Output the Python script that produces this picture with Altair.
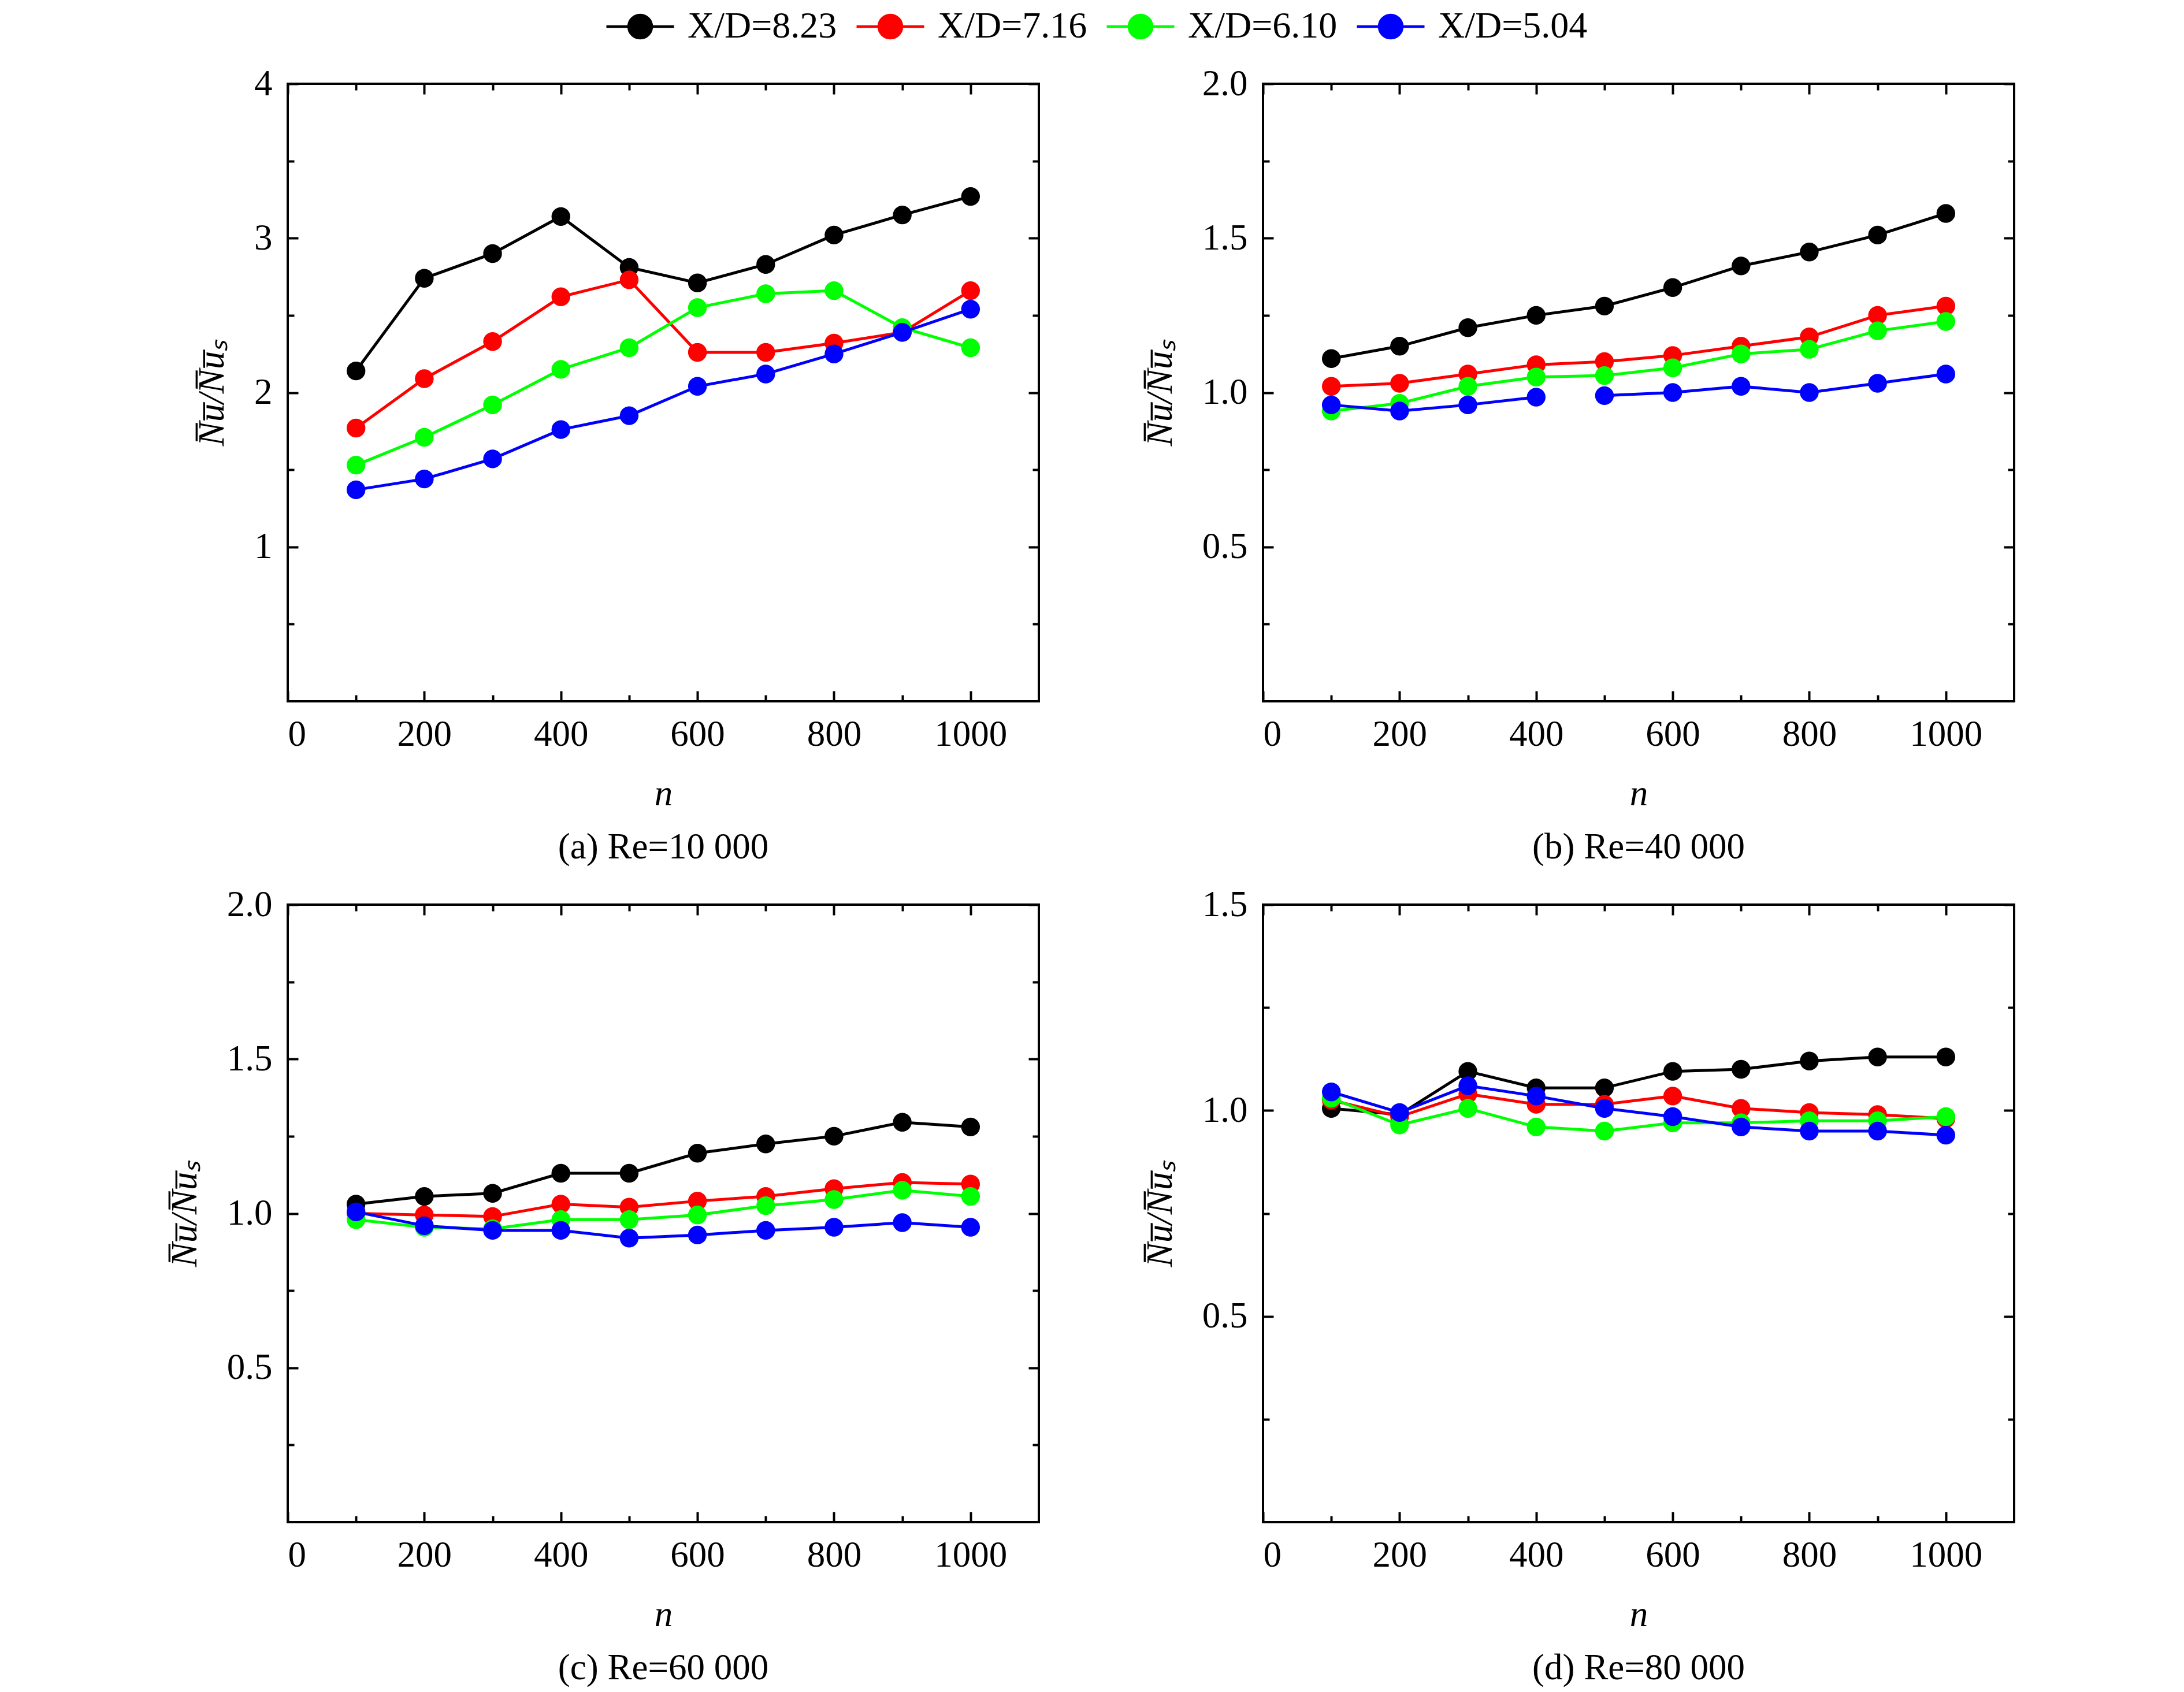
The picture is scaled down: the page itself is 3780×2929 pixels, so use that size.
import altair as alt
import pandas as pd

N_VALUES = [100, 200, 300, 400, 500, 600, 700, 800, 900, 1000]
SERIES = ["X/D=8.23", "X/D=7.16", "X/D=6.10", "X/D=5.04"]
COLORS = ["#000000", "#ff0000", "#00ff00", "#0000ff"]

# (a) Re = 10 000
A_823 = [2.14, 2.74, 2.90, 3.14, 2.81, 2.71, 2.83, 3.02, 3.15, 3.27]
A_716 = [1.77, 2.09, 2.33, 2.62, 2.73, 2.26, 2.26, 2.32, 2.39, 2.66]
A_610 = [1.53, 1.71, 1.92, 2.15, 2.29, 2.55, 2.64, 2.66, 2.42, 2.29]
A_504 = [1.37, 1.44, 1.57, 1.76, 1.85, 2.04, 2.12, 2.25, 2.39, 2.54]
# (b) Re = 40 000
B_823 = [1.11, 1.15, 1.21, 1.25, 1.28, 1.34, 1.41, 1.455, 1.51, 1.58]
B_716 = [1.02, 1.03, 1.06, 1.09, 1.10, 1.12, 1.15, 1.18, 1.25, 1.28]
B_610 = [0.94, 0.965, 1.02, 1.05, 1.055, 1.08, 1.125, 1.14, 1.20, 1.23]
B_504 = [0.96, 0.94, 0.96, 0.985, 0.99, 1.00, 1.02, 1.00, 1.03, 1.06]
# (c) Re = 60 000
C_823 = [1.03, 1.055, 1.065, 1.13, 1.13, 1.195, 1.225, 1.25, 1.295, 1.28]
C_716 = [1.00, 0.995, 0.99, 1.03, 1.02, 1.04, 1.055, 1.08, 1.10, 1.095]
C_610 = [0.98, 0.955, 0.95, 0.98, 0.98, 0.995, 1.025, 1.045, 1.075, 1.055]
C_504 = [1.005, 0.96, 0.945, 0.945, 0.92, 0.93, 0.945, 0.955, 0.97, 0.955]
# (d) Re = 80 000
D_823 = [1.005, 0.99, 1.095, 1.055, 1.055, 1.095, 1.10, 1.12, 1.13, 1.13]
D_716 = [1.025, 0.985, 1.04, 1.015, 1.015, 1.035, 1.005, 0.995, 0.99, 0.98]
D_610 = [1.03, 0.965, 1.005, 0.96, 0.95, 0.97, 0.97, 0.975, 0.975, 0.985]
D_504 = [1.045, 0.995, 1.06, 1.035, 1.005, 0.985, 0.96, 0.95, 0.95, 0.94]

PANELS = {
    "a": [A_823, A_716, A_610, A_504],
    "b": [B_823, B_716, B_610, B_504],
    "c": [C_823, C_716, C_610, C_504],
    "d": [D_823, D_716, D_610, D_504],
}
CAPTIONS = {"a": "(a) Re=10 000", "b": "(b) Re=40 000",
            "c": "(c) Re=60 000", "d": "(d) Re=80 000"}
YMAX = {"a": 4.0, "b": 2.0, "c": 2.0, "d": 1.5}
YMINOR = {"a": 0.5, "b": 0.25, "c": 0.25, "d": 0.25}
YTEST = {"a": "datum.value % 1 === 0", "b": "(datum.value * 2) % 1 === 0",
         "c": "(datum.value * 2) % 1 === 0", "d": "(datum.value * 2) % 1 === 0"}
YFMT = {"a": ".0f", "b": ".1f", "c": ".1f", "d": ".1f"}
# the blue X/D=5.04 curve of panel (b) has a break between n=400 and n=500
BREAKS = {("b", "X/D=5.04"): 500}

rows = []
for key, lists in PANELS.items():
    for s, vals in zip(SERIES, lists):
        brk = BREAKS.get((key, s))
        for n, v in zip(N_VALUES, vals):
            seg = 1 if (brk is not None and n >= brk) else 0
            rows.append({"panel": key, "series": s, "n": n, "v": v, "seg": seg})
df = pd.DataFrame(rows)

FONT = "Liberation Serif"
FS = 63
W, H = 1300, 1069
MAJ, MIN = -18, -11

# legend symbol: a short line through a filled circle (line reaches beyond the
# nominal symbol box, which is compensated by label offset / column padding)
LEG_PATH = ("M-2.925,0L2.925,0M1,0A1,1,0,1,1,-1,0A1,1,0,1,1,1,0Z")
legend = alt.Legend(orient="none", legendX=578, legendY=-131, direction="horizontal",
                    columns=4, title=None, symbolType=LEG_PATH, symbolSize=1600,
                    symbolStrokeWidth=4.5, labelFont=FONT, labelFontSize=64,
                    labelColor="black", labelOffset=50, columnPadding=24,
                    labelLimit=0, symbolOpacity=1)
cscale = alt.Scale(domain=SERIES, range=COLORS)

YTITLE = "N\u0305u\u0305/N\u0305u\u0305\u209b"


def panel(key):
    d = df[df.panel == key]
    ymax, ymin_step = YMAX[key], YMINOR[key]
    nt = int(round(ymax / ymin_step))
    yvals = [round(ymin_step * k, 4) for k in range(1, nt + 1)]
    ytest = YTEST[key]
    xtest = "datum.value % 200 === 0"
    xs = alt.Scale(domain=[0, 1100], nice=False, zero=False)
    ys = alt.Scale(domain=[0, ymax], nice=False, zero=False)
    xvals = list(range(0, 1001, 100))

    common = dict(labelFont=FONT, labelFontSize=FS, labelColor="black",
                  titleFont=FONT, titleFontSize=FS, titleFontWeight="normal",
                  titleColor="black", tickColor="black", tickWidth=4,
                  domain=False, grid=False, labelOverlap=False)
    x_axis = alt.Axis(values=xvals,
                      labelExpr=f"{xtest} ? format(datum.value, 'd') : ''",
                      tickSize={"expr": f"{xtest} ? {MAJ} : {MIN}"}, labelPadding=44,
                      title="n", titleFontStyle="italic", titlePadding=33, **common)
    y_axis = alt.Axis(values=yvals,
                      labelExpr=f"{ytest} ? format(datum.value, '{YFMT[key]}') : ''",
                      tickSize={"expr": f"{ytest} ? {MAJ} : {MIN}"}, labelPadding=45,
                      title=YTITLE, titleFontStyle="italic", titlePadding=40, **common)
    X = alt.X("n:Q", scale=xs, axis=x_axis)
    Y = alt.Y("v:Q", scale=ys, axis=y_axis)

    layers = []
    for s in SERIES:
        base = alt.Chart(d).transform_filter(alt.datum.series == s)
        line = base.mark_line(strokeWidth=5).encode(
            x=X, y=Y,
            stroke=alt.Stroke("series:N", scale=cscale, legend=legend),
            detail="seg:N")
        pts = base.mark_point(filled=True, size=1050, opacity=1).encode(
            x=X, y=Y,
            fill=alt.Fill("series:N", scale=cscale, legend=legend))
        layers += [line, pts]
    main = alt.layer(*layers)

    top_axis = alt.Axis(orient="top", values=xvals, labels=False, title=None,
                        tickSize={"expr": f"{xtest} ? {MAJ} : {MIN}"},
                        tickColor="black", tickWidth=4, domain=False, grid=False)
    right_axis = alt.Axis(orient="right", values=yvals, labels=False, title=None,
                          tickSize={"expr": f"{ytest} ? {MAJ} : {MIN}"},
                          tickColor="black", tickWidth=4, domain=False, grid=False)
    mirror = alt.Chart(d).mark_point(opacity=0).encode(
        x=alt.X("n:Q", scale=xs, axis=top_axis),
        y=alt.Y("v:Q", scale=ys, axis=right_axis))

    return alt.layer(main, mirror).resolve_scale(
        x="independent", y="independent").properties(
        width=W, height=H,
        title=alt.TitleParams(CAPTIONS[key], orient="bottom", anchor="middle",
                              font=FONT, fontSize=FS, fontWeight="normal",
                              color="black", offset=30))


chart = alt.concat(panel("a"), panel("b"), panel("c"), panel("d"), columns=2,
                   spacing=alt.RowColnumber(row=352, column=388), bounds="flush"
                   ).resolve_scale(fill="shared", stroke="shared").properties(
    padding={"left": 279, "top": 6, "right": 10, "bottom": 0},
    background="white"
).configure_view(stroke="black", strokeWidth=4)

chart.save("out.html", embed_options={"renderer": "svg", "actions": False})
